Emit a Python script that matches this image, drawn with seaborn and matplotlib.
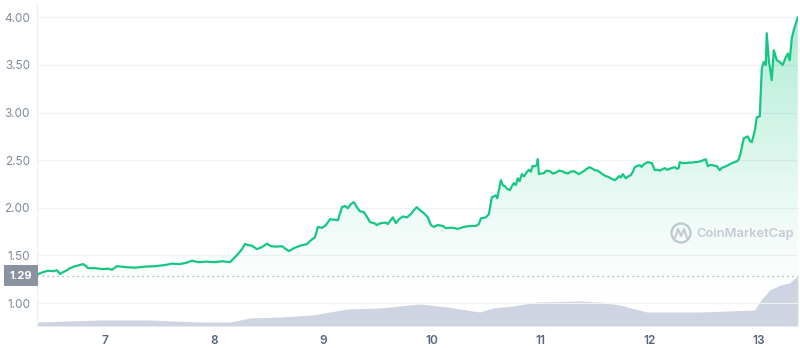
import numpy as np
import pandas as pd
import matplotlib
matplotlib.use("Agg")
import matplotlib.pyplot as plt
import seaborn as sns
from matplotlib.patches import Polygon, Circle
from matplotlib.transforms import IdentityTransform

# ---------------- data ----------------
days = [6.376, 6.43, 6.477, 6.523, 6.56, 6.587, 6.615, 6.651, 6.679, 6.725, 6.771, 6.798, 6.826, 6.844,
        6.908, 6.982, 7.028, 7.064, 7.11, 7.183, 7.275, 7.367, 7.459, 7.55, 7.615, 7.688, 7.752, 7.798,
        7.853, 7.917, 8.009, 8.073, 8.147, 8.183, 8.22, 8.257, 8.284, 8.312, 8.349, 8.394, 8.44, 8.486,
        8.523, 8.569, 8.624, 8.661, 8.688, 8.734, 8.789, 8.853, 8.89, 8.927, 8.954, 8.991, 9.028, 9.064,
        9.101, 9.138, 9.174, 9.202, 9.229, 9.257, 9.284, 9.312, 9.339, 9.376, 9.413, 9.431, 9.468, 9.495,
        9.532, 9.578, 9.596, 9.615, 9.642, 9.67, 9.697, 9.734, 9.771, 9.807, 9.835, 9.862, 9.89, 9.927,
        9.963, 9.991, 10.018, 10.055, 10.101, 10.128, 10.183, 10.239, 10.294, 10.349, 10.404, 10.431,
        10.45, 10.495, 10.523, 10.55, 10.587, 10.6, 10.615, 10.633, 10.65, 10.67, 10.69, 10.716, 10.735,
        10.752, 10.77, 10.789, 10.805, 10.826, 10.845, 10.872, 10.89, 10.908, 10.925, 10.945, 10.963,
        10.972, 10.982, 11.0, 11.028, 11.05, 11.083, 11.11, 11.138, 11.165, 11.193, 11.22, 11.248, 11.275,
        11.303, 11.325, 11.349, 11.37, 11.394, 11.42, 11.45, 11.475, 11.495, 11.52, 11.541, 11.57, 11.596,
        11.62, 11.642, 11.66, 11.679, 11.7, 11.716, 11.735, 11.752, 11.78, 11.8, 11.826, 11.845, 11.862,
        11.885, 11.908, 11.925, 11.945, 11.965, 11.982, 12.0, 12.018, 12.046, 12.07, 12.092, 12.115,
        12.138, 12.16, 12.183, 12.205, 12.229, 12.25, 12.266, 12.275, 12.3, 12.33, 12.36, 12.385, 12.41,
        12.431, 12.45, 12.468, 12.49, 12.514, 12.532, 12.555, 12.578, 12.6, 12.615, 12.642, 12.66, 12.679,
        12.705, 12.734, 12.755, 12.78, 12.8, 12.817, 12.835, 12.862, 12.88, 12.899, 12.92, 12.936, 12.963,
        12.982, 13.009, 13.028, 13.046, 13.064, 13.073, 13.092, 13.119, 13.138, 13.165, 13.193, 13.22,
        13.248, 13.266, 13.284, 13.303, 13.321, 13.339, 13.358]
price = [1.30, 1.325, 1.34, 1.335, 1.345, 1.305, 1.325, 1.345, 1.367, 1.388, 1.40, 1.41, 1.39, 1.367,
         1.367, 1.357, 1.362, 1.35, 1.388, 1.378, 1.372, 1.383, 1.388, 1.40, 1.414, 1.41, 1.425, 1.446,
         1.43, 1.435, 1.43, 1.44, 1.43, 1.472, 1.514, 1.567, 1.62, 1.61, 1.603, 1.567, 1.588, 1.624,
         1.598, 1.593, 1.598, 1.567, 1.546, 1.577, 1.603, 1.619, 1.66, 1.69, 1.80, 1.79, 1.82, 1.88,
         1.876, 1.87, 2.007, 2.02, 1.996, 2.04, 2.06, 2.007, 1.965, 1.955, 1.89, 1.85, 1.84, 1.82,
         1.84, 1.845, 1.83, 1.86, 1.90, 1.84, 1.88, 1.91, 1.90, 1.934, 1.976, 2.007, 1.976, 1.944,
         1.90, 1.82, 1.80, 1.82, 1.81, 1.787, 1.792, 1.78, 1.80, 1.81, 1.81, 1.83,
         1.89, 1.90, 1.934, 2.11, 2.13, 2.10, 2.186, 2.29, 2.24, 2.227, 2.20, 2.186, 2.23,
         2.26, 2.24, 2.31, 2.28, 2.354, 2.33, 2.375, 2.40, 2.38, 2.44, 2.437, 2.45,
         2.51, 2.354, 2.36, 2.364, 2.39, 2.385, 2.36, 2.37, 2.39, 2.385, 2.37, 2.36, 2.38,
         2.385, 2.37, 2.354, 2.37, 2.385, 2.41, 2.427, 2.41, 2.396, 2.39, 2.375, 2.35, 2.333,
         2.325, 2.31, 2.30, 2.29, 2.31, 2.333, 2.32, 2.354, 2.31, 2.33, 2.343, 2.38, 2.427,
         2.44, 2.448, 2.43, 2.458, 2.47, 2.48, 2.475, 2.47, 2.396, 2.40, 2.39, 2.405,
         2.417, 2.40, 2.41, 2.42, 2.427, 2.41, 2.42, 2.48, 2.47, 2.47, 2.475, 2.474, 2.48,
         2.48, 2.485, 2.49, 2.50, 2.51, 2.437, 2.45, 2.448, 2.44, 2.437, 2.396, 2.42, 2.427,
         2.44, 2.458, 2.47, 2.48, 2.49, 2.51, 2.584, 2.73, 2.74, 2.75, 2.70, 2.69, 2.805,
         2.95, 2.96, 3.466, 3.53, 3.50, 3.833, 3.55, 3.34, 3.655, 3.55, 3.53, 3.50,
         3.58, 3.62, 3.55, 3.78, 3.865, 3.93, 4.00]

vol_days = [6.376, 6.954, 7.413, 7.872, 8.147, 8.33, 8.606, 8.908, 9.22, 9.523, 9.89, 10.138, 10.44,
            10.56, 10.743, 10.963, 11.358, 11.541, 11.725, 11.972, 12.459, 12.963, 13.02, 13.1, 13.2,
            13.28, 13.358]
volume = [8, 12, 12, 8, 8, 16, 18, 22, 34, 36, 44, 38, 28, 36, 40, 48, 50, 48, 42, 28, 28, 32, 52,
          72, 82, 86, 100]

x_ticks = [7, 8, 9, 10, 11, 12, 13]
x_tick_labels = ["7", "8", "9", "10", "11", "12", "13"]
y_ticks = [1.0, 1.5, 2.0, 2.5, 3.0, 3.5, 4.0]
y_tick_labels = ["1.00", "1.50", "2.00", "2.50", "3.00", "3.50", "4.00"]
ref_price = 1.29

# ---------------- style ----------------
sns.set_style("white")
plt.rcParams["font.family"] = ["Inter", "DejaVu Sans"]

GREEN = "#16c784"
GRAY_TXT = "#808a9d"

W, H = 800, 348
fig = plt.figure(figsize=(8, 3.48), dpi=100)
ax = fig.add_axes([37 / W, 22 / H, 761 / W, 323 / H])
ax2 = ax.twinx()
ax.set_zorder(ax2.get_zorder() + 1)
ax.patch.set_visible(False)

XMIN, XMAX = 6.376, 13.36
YMIN, YMAX = 0.76, 4.15

df = pd.DataFrame({"day": days, "price": price})

# gradient under line
grad = np.zeros((256, 2, 4))
rgb = matplotlib.colors.to_rgb(GREEN)
grad[..., 0], grad[..., 1], grad[..., 2] = rgb
alpha = np.linspace(0.0, 0.45, 256) ** 1.3
grad[..., 3] = alpha[:, None]
im = ax.imshow(grad, extent=[XMIN, XMAX, 1.0, 4.0], origin="lower", aspect="auto", zorder=1)
poly_pts = [(XMIN, YMIN)] + list(zip(days, price)) + [(days[-1], YMIN)]
clip = Polygon(poly_pts, closed=True, transform=ax.transData, facecolor="none", edgecolor="none")
ax.add_patch(clip)
im.set_clip_path(clip)

sns.lineplot(data=df, x="day", y="price", ax=ax, color=GREEN, linewidth=1.6, sort=False, zorder=4)

# volume area
ax2.fill_between(vol_days, 0, volume, color="#cfd4e2", linewidth=0, zorder=1)
ax2.set_ylim(0, 646)
ax2.set_yticks([])
for s in ax2.spines.values():
    s.set_visible(False)

# reference dotted line
ax.axhline(ref_price, color="#9aa1ae", linestyle=(0, (1, 3)), linewidth=0.9, zorder=3)
ax.text(-0.0215, ref_price, "1.29", transform=ax.get_yaxis_transform(), ha="center", va="center",
        color="white", fontsize=8, fontweight="bold",
        bbox=dict(boxstyle="square,pad=0.5", facecolor="#8b92a0", edgecolor="none"), zorder=10,
        clip_on=False)

ax.set_xlim(XMIN, XMAX)
ax.set_ylim(YMIN, YMAX)
ax.set_xticks(x_ticks)
ax.set_xticklabels(x_tick_labels)
ax.set_yticks(y_ticks)
ax.set_yticklabels(y_tick_labels)
ax.tick_params(axis="y", length=0, pad=5, labelsize=8.5, labelcolor=GRAY_TXT)
ax.tick_params(axis="x", length=3.5, width=1, color="#a6b0c3", pad=3, labelsize=8.5,
               labelcolor="#58667e")
for lab in ax.get_xticklabels():
    lab.set_fontweight("semibold")
ax.grid(axis="y", color="#eff2f5", linewidth=0.9)
ax.grid(axis="x", visible=False)
ax.set_xlabel("")
ax.set_ylabel("")
for k, s in ax.spines.items():
    s.set_visible(False)
ax.spines["left"].set_visible(True)
ax.spines["left"].set_color("#eff2f5")
ax.spines["left"].set_linewidth(0.9)

# watermark (pixel coordinates, origin bottom-left)
wm_col = "#c5cad3"
cx, cy = 681, H - 233
fig.add_artist(Circle((cx, cy), 9.5, transform=IdentityTransform(),
                      facecolor="none", edgecolor=wm_col, linewidth=1.6))
zx = np.array([-6, -3, 0, 3, 6]) + cx
zy = np.array([-5, 4, -3, 4, -5]) + cy
fig.add_artist(matplotlib.lines.Line2D(zx, zy, transform=IdentityTransform(), color=wm_col,
                                       linewidth=1.5))
fig.text(696 / W, 1 - 234 / H, "CoinMarketCap", color=wm_col, fontsize=9.3,
         fontweight="semibold", ha="left", va="center")

fig.savefig("out.png", dpi=100)
